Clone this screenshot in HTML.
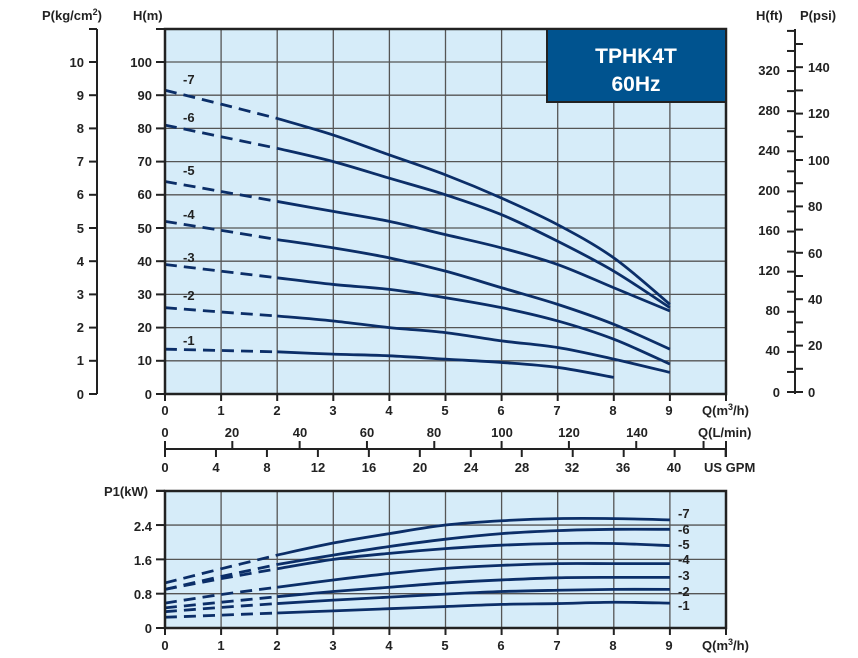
<!DOCTYPE html>
<html><head><meta charset="utf-8"><style>
html,body{margin:0;padding:0;background:#fff;}
svg{display:block;font-family:"Liberation Sans",sans-serif;font-weight:bold;}
text{font-size:13px;fill:#222;}
</style></head><body>
<svg id="s" width="858" height="658" xmlns="http://www.w3.org/2000/svg">
<rect x="165" y="29" width="561" height="365" fill="#d6ecf9"/>
<rect x="165" y="491" width="561" height="137" fill="#d6ecf9"/>
<g id="grid"></g>
<g id="curves"></g>
<!-- main frame -->
<rect x="165" y="29" width="561" height="365" fill="none" stroke="#222" stroke-width="2.5"/>
<rect x="165" y="491" width="561" height="137" fill="none" stroke="#222" stroke-width="2.5"/>
<rect x="547" y="29" width="179" height="73" fill="#00538f" stroke="#222" stroke-width="2"/>
<text x="636" y="63" text-anchor="middle" style="font-size:21px;fill:#fff">TPHK4T</text>
<text x="636" y="91" text-anchor="middle" style="font-size:21px;fill:#fff">60Hz</text>
<g id="axes" stroke="#222" stroke-width="2" fill="none"></g>

<!-- left labels -->
<text x="42" y="20">P(kg/cm<tspan dy="-5" style="font-size:9px">2</tspan><tspan dy="5">)</tspan></text>
<text x="133" y="20">H(m)</text>
<g text-anchor="end">
<text x="84" y="67">10</text><text x="84" y="100">9</text><text x="84" y="133">8</text><text x="84" y="166">7</text><text x="84" y="199">6</text><text x="84" y="233">5</text><text x="84" y="266">4</text><text x="84" y="299">3</text><text x="84" y="332">2</text><text x="84" y="365">1</text><text x="84" y="399">0</text>
<text x="152" y="67">100</text><text x="152" y="100">90</text><text x="152" y="133">80</text><text x="152" y="166">70</text><text x="152" y="199">60</text><text x="152" y="233">50</text><text x="152" y="266">40</text><text x="152" y="299">30</text><text x="152" y="332">20</text><text x="152" y="365">10</text><text x="152" y="399">0</text>
<text x="780" y="75">320</text><text x="780" y="115">280</text><text x="780" y="155">240</text><text x="780" y="195">200</text><text x="780" y="235">160</text><text x="780" y="275">120</text><text x="780" y="315">80</text><text x="780" y="355">40</text><text x="780" y="397">0</text>
<text x="152" y="531">2.4</text><text x="152" y="565">1.6</text><text x="152" y="599">0.8</text><text x="152" y="633">0</text>
</g>
<text x="756" y="20">H(ft)</text><text x="800" y="20">P(psi)</text>
<g>
<text x="808" y="72">140</text><text x="808" y="118">120</text><text x="808" y="165">100</text><text x="808" y="211">80</text><text x="808" y="258">60</text><text x="808" y="304">40</text><text x="808" y="350">20</text><text x="808" y="397">0</text>
</g>
<text x="104" y="496">P1(kW)</text>
<!-- bottom labels -->
<g text-anchor="middle">
<text x="165" y="415">0</text><text x="221" y="415">1</text><text x="277" y="415">2</text><text x="333" y="415">3</text><text x="389" y="415">4</text><text x="445" y="415">5</text><text x="501" y="415">6</text><text x="557" y="415">7</text><text x="613" y="415">8</text><text x="669" y="415">9</text>
<text x="165" y="437">0</text><text x="232" y="437">20</text><text x="300" y="437">40</text><text x="367" y="437">60</text><text x="434" y="437">80</text><text x="502" y="437">100</text><text x="569" y="437">120</text><text x="637" y="437">140</text>
<text x="165" y="472">0</text><text x="216" y="472">4</text><text x="267" y="472">8</text><text x="318" y="472">12</text><text x="369" y="472">16</text><text x="420" y="472">20</text><text x="471" y="472">24</text><text x="522" y="472">28</text><text x="572" y="472">32</text><text x="623" y="472">36</text><text x="674" y="472">40</text>
<text x="165" y="650">0</text><text x="221" y="650">1</text><text x="277" y="650">2</text><text x="333" y="650">3</text><text x="389" y="650">4</text><text x="445" y="650">5</text><text x="501" y="650">6</text><text x="557" y="650">7</text><text x="613" y="650">8</text><text x="669" y="650">9</text>
</g>
<text x="702" y="415">Q(m<tspan dy="-5" style="font-size:9px">3</tspan><tspan dy="5">/h)</tspan></text>
<text x="698" y="437">Q(L/min)</text>
<text x="704" y="472">US GPM</text>
<text x="702" y="650">Q(m<tspan dy="-5" style="font-size:9px">3</tspan><tspan dy="5">/h)</tspan></text>
<!-- curve labels -->
<text x="183" y="84">-7</text><text x="183" y="122">-6</text><text x="183" y="175">-5</text><text x="183" y="219">-4</text><text x="183" y="262">-3</text><text x="183" y="300">-2</text><text x="183" y="345">-1</text>
<text x="678" y="518">-7</text><text x="678" y="534">-6</text><text x="678" y="549">-5</text><text x="678" y="564">-4</text><text x="678" y="580">-3</text><text x="678" y="596">-2</text><text x="678" y="610">-1</text>
</svg>
<script>
var NS="http://www.w3.org/2000/svg";
function el(p,t,a){var e=document.createElementNS(NS,t);for(var k in a)e.setAttribute(k,a[k]);p.appendChild(e);return e;}
var g=document.getElementById('grid'),ax=document.getElementById('axes'),cv=document.getElementById('curves');
function X(q){return 165+56.1*q;}
for(var i=1;i<10;i++){el(g,'line',{x1:X(i),y1:29,x2:X(i),y2:394,stroke:'#555','stroke-width':1.3});el(g,'line',{x1:X(i),y1:491,x2:X(i),y2:628,stroke:'#555','stroke-width':1.3});}
for(var h=10;h<=100;h+=10){var y=394-3.32*h;el(g,'line',{x1:165,y1:y,x2:726,y2:y,stroke:'#555','stroke-width':1.3});}
for(var p=0.8;p<3;p+=0.8){var y=628-42.9*p;el(g,'line',{x1:165,y1:y,x2:726,y2:y,stroke:'#555','stroke-width':1.3});}
// axes
el(ax,'line',{x1:97,y1:29,x2:97,y2:394});
for(var k=0;k<=10;k++){var y=394-33.2*k;el(ax,'line',{x1:89,y1:y,x2:97,y2:y});}
el(ax,'line',{x1:89,y1:29,x2:97,y2:29});
for(var h=0;h<=100;h+=10){var y=394-3.32*h;el(ax,'line',{x1:156,y1:y,x2:165,y2:y});}
el(ax,'line',{x1:156,y1:29,x2:165,y2:29});
el(ax,'line',{x1:795,y1:29,x2:795,y2:394});
for(var f=0;f<=360;f+=20){var y=392-1.003*f;if(y<29)break;el(ax,'line',{x1:787,y1:y,x2:795,y2:y});}
for(var s=0;s<=150;s+=10){var y=392-2.32*s;if(y<29)break;el(ax,'line',{x1:795,y1:y,x2:803,y2:y});}
el(ax,'line',{x1:787,y1:392,x2:803,y2:392});
for(var i=0;i<=10;i++){el(ax,'line',{x1:X(i),y1:394,x2:X(i),y2:401});el(ax,'line',{x1:X(i),y1:628,x2:X(i),y2:635});}
el(ax,'line',{x1:165,y1:449,x2:726,y2:449});
for(var l=0;l<=160;l+=20){var x=X(l/16.667);if(x>727)break;el(ax,'line',{x1:x,y1:441,x2:x,y2:449});}
for(var u=0;u<=44;u+=4){var x=X(u/4.403);if(x>727)break;el(ax,'line',{x1:x,y1:449,x2:x,y2:457});}
el(ax,'line',{x1:726,y1:441,x2:726,y2:457});
for(var p=0;p<=3.2;p+=0.8){var y=628-42.9*p;el(ax,'line',{x1:156,y1:y,x2:165,y2:y});}
el(ax,'line',{x1:156,y1:491,x2:165,y2:491});
function path(pts){var d='M'+pts[0][0]+','+pts[0][1];for(var i=0;i<pts.length-1;i++){var p0=pts[i-1]||pts[i],p1=pts[i],p2=pts[i+1],p3=pts[i+2]||p2;
d+=' C'+(p1[0]+(p2[0]-p0[0])/6)+','+(p1[1]+(p2[1]-p0[1])/6)+' '+(p2[0]-(p3[0]-p1[0])/6)+','+(p2[1]-(p3[1]-p1[1])/6)+' '+p2[0]+','+p2[1];}return d;}
function draw(vals,Yf){var a=[],b=[];vals.forEach(function(v,i){var q=i<2?i:i; if(v==null)return;var pt=[X(i),Yf(v)];if(i<=2)a.push(pt);if(i>=2)b.push(pt);});
el(cv,'path',{d:path(a),fill:'none',stroke:'#0b2e68','stroke-width':2.8,'stroke-dasharray':'12,7'});
el(cv,'path',{d:path(b),fill:'none',stroke:'#0b2e68','stroke-width':2.8});}
var YH=function(h){return 394-3.32*h;},YP=function(p){return 628-42.9*p;};
[[91.5,87.3,83,78,72,66,59,51,41,27],[81,77.5,74,70,65,60,54,46,37,26],[64,61,58,55,52,48,44,39,32,25],[52,49.3,46.5,44,41,37,32,27,21,13.5],[39,37,35,33,31.5,29,26,22,16.5,9],[26,24.7,23.5,22,20,18.5,16,14,10.5,6.5],[13.5,13.1,12.7,12,11.5,10.5,9.5,8,5,null]].forEach(function(v){draw(v,YH);});
[[1.05,1.38,1.7,1.98,2.2,2.4,2.5,2.55,2.55,2.52],[0.9,1.2,1.48,1.7,1.9,2.07,2.2,2.27,2.3,2.3],[0.9,1.15,1.38,1.6,1.74,1.85,1.93,1.97,1.97,1.92],[0.58,0.78,0.95,1.12,1.27,1.39,1.46,1.5,1.5,1.5],[0.47,0.6,0.73,0.85,0.95,1.05,1.12,1.17,1.18,1.18],[0.38,0.48,0.57,0.65,0.72,0.79,0.85,0.88,0.9,0.9],[0.25,0.3,0.35,0.4,0.45,0.5,0.55,0.57,0.6,0.58]].forEach(function(v){draw(v,YP);});
</script>
</body></html>
